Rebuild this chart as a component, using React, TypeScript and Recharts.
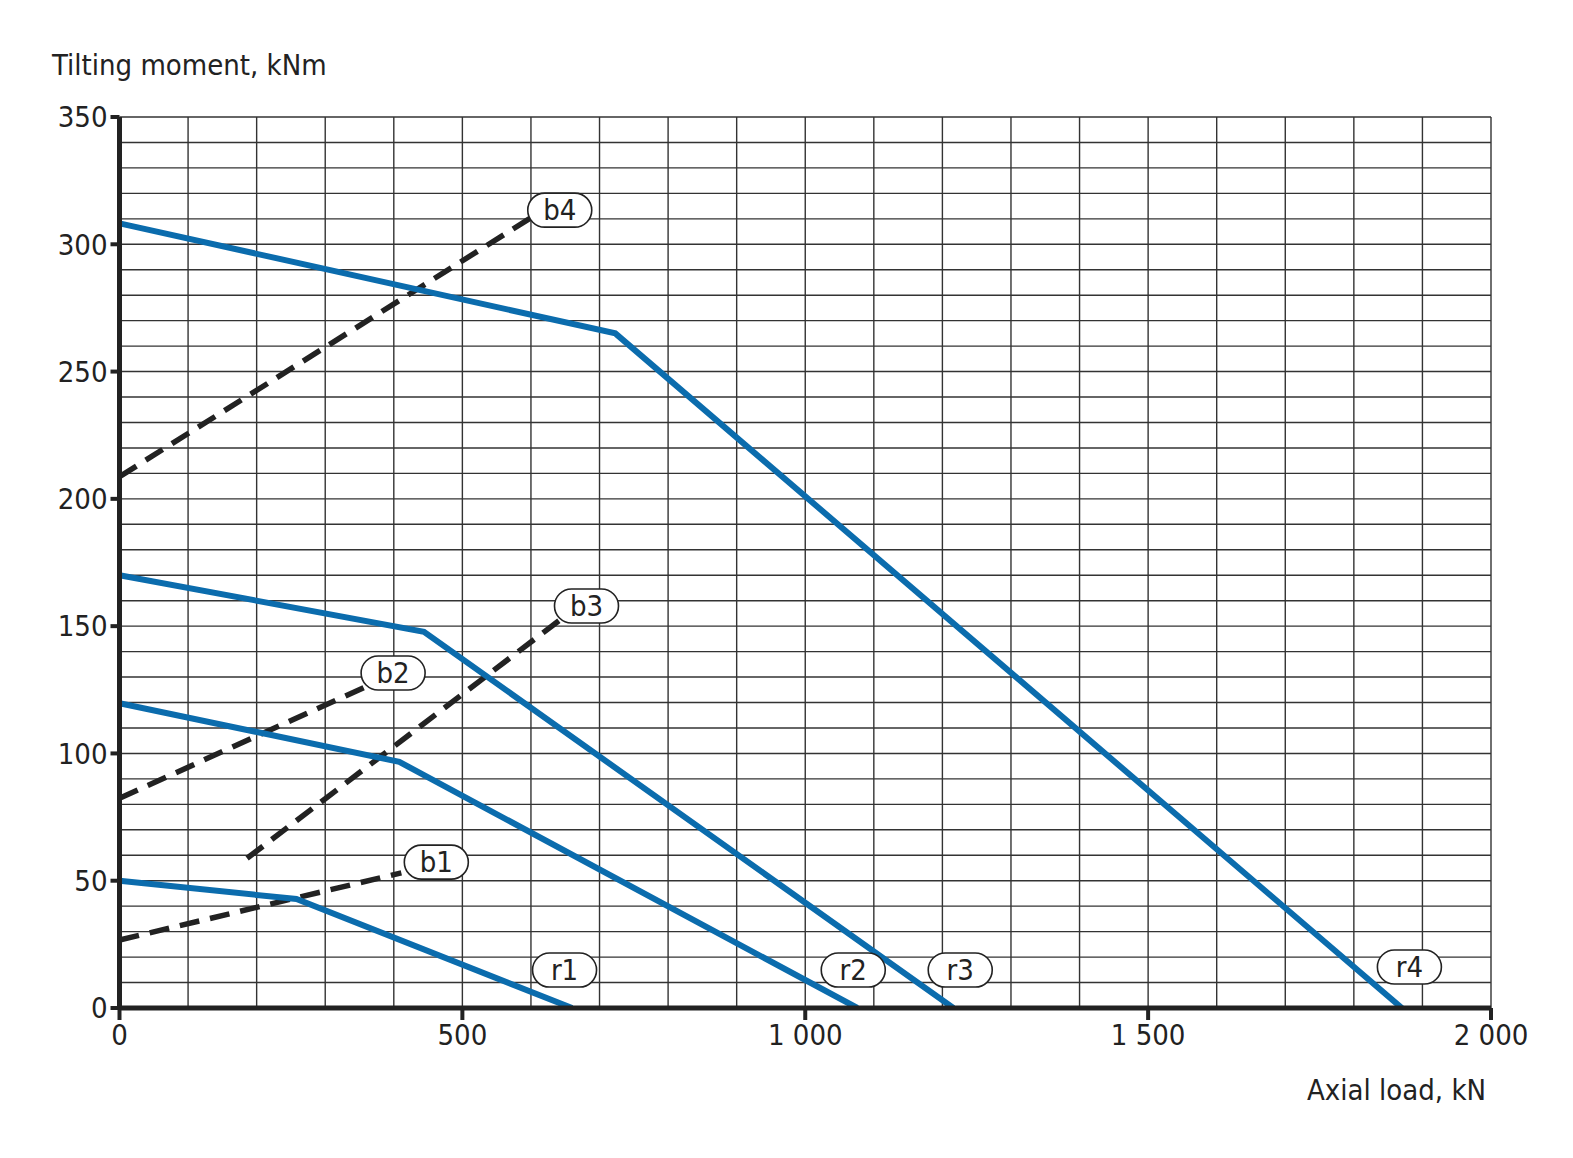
import { LineChart, Line, XAxis, YAxis, CartesianGrid, ReferenceDot } from 'recharts'

// rated curves (blue)
const r1 = [
  { x: 0, y: 50 },
  { x: 258, y: 42.8 },
  { x: 660, y: 0 },
]
const r2 = [
  { x: 0, y: 119.7 },
  { x: 408, y: 96.7 },
  { x: 1076, y: 0 },
]
const r3 = [
  { x: 0, y: 170 },
  { x: 444, y: 147.8 },
  { x: 1216, y: 0 },
]
const r4 = [
  { x: 0, y: 308.2 },
  { x: 723, y: 265 },
  { x: 1870, y: 0 },
]

// bolt curves (dashed)
const b1 = [
  { x: 0, y: 26.7 },
  { x: 411, y: 53.1 },
]
const b2 = [
  { x: 0, y: 82.4 },
  { x: 359, y: 126.2 },
]
const b3 = [
  { x: 186, y: 58.8 },
  { x: 642, y: 152.4 },
]
const b4 = [
  { x: 0, y: 208.7 },
  { x: 602, y: 310.8 },
]

const curveTags = [
  { name: 'b4', x: 642, y: 313.4 },
  { name: 'b3', x: 681, y: 157.9 },
  { name: 'b2', x: 399, y: 131.6 },
  { name: 'b1', x: 462, y: 57.3 },
  { name: 'r1', x: 649, y: 14.9 },
  { name: 'r2', x: 1070, y: 14.9 },
  { name: 'r3', x: 1226, y: 14.9 },
  { name: 'r4', x: 1881, y: 16.1 },
]

const xTicks = [0, 500, 1000, 1500, 2000]
const yTicks = [0, 50, 100, 150, 200, 250, 300, 350]

const gridX = Array.from({ length: 21 }, (_, i) => i * 100)
const gridY = Array.from({ length: 36 }, (_, i) => i * 10)

const BLUE = '#0b6cad'
const INK = '#222'
const FONT = '"Liberation Sans Narrow", "DejaVu Sans Condensed", "Roboto", sans-serif'

const fmtThousands = (v: number) =>
  String(v).replace(/\B(?=(\d{3})+(?!\d))/g, ' ')

const TagShape = ({ cx, cy, name }: any) => (
  <g>
    <rect
      x={cx - 32}
      y={cy - 17}
      width={64}
      height={34}
      rx={17}
      ry={17}
      fill="#fff"
      stroke={INK}
      strokeWidth={1.6}
    />
    <text
      x={cx}
      y={cy + 10}
      textAnchor="middle"
      fontFamily={FONT}
      fontSize={29}
      fill={INK}
    >
      {name}
    </text>
  </g>
)

export default function App() {
  return (
    <div style={{ position: 'relative', width: 1557, height: 1142, fontFamily: FONT }}>
      <div
        style={{
          position: 'absolute',
          left: 44,
          top: 40,
          fontSize: 29,
          color: INK,
        }}
      >
        Tilting moment, kNm
      </div>
      <div
        style={{
          position: 'absolute',
          right: 1557 - 1478,
          top: 1065,
          fontSize: 29,
          color: INK,
        }}
      >
        Axial load, kN
      </div>
      <LineChart
        width={1557}
        height={1142}
        margin={{ top: 109, right: 74, left: 0, bottom: 82 }}
        style={{ position: 'absolute', left: 0, top: 0 }}
      >
        <CartesianGrid
          stroke="#333"
          strokeWidth={1.4}
          horizontalValues={gridY}
          verticalValues={gridX}
        />
        <XAxis
          type="number"
          dataKey="x"
          domain={[0, 2000]}
          ticks={xTicks}
          tickFormatter={fmtThousands}
          allowDataOverflow
          height={60}
          axisLine={{ stroke: INK, strokeWidth: 5 }}
          tickLine={{ stroke: INK, strokeWidth: 4 }}
          tickSize={12}
          tickMargin={4}
          tick={{ fill: INK, fontSize: 29, fontFamily: FONT }}
        />
        <YAxis
          type="number"
          dataKey="y"
          domain={[0, 350]}
          ticks={yTicks}
          allowDataOverflow
          width={111.5}
          axisLine={{ stroke: INK, strokeWidth: 5 }}
          tickLine={{ stroke: INK, strokeWidth: 4 }}
          tickSize={9}
          tickMargin={3}
          tick={{ fill: INK, fontSize: 29, fontFamily: FONT }}
        />
        {[b1, b2, b3, b4].map((d, i) => (
          <Line
            key={`b${i}`}
            data={d}
            dataKey="y"
            type="linear"
            stroke={INK}
            strokeWidth={5.5}
            strokeDasharray="20 11"
            dot={false}
            activeDot={false}
            isAnimationActive={false}
          />
        ))}
        {[r1, r2, r3, r4].map((d, i) => (
          <Line
            key={`r${i}`}
            data={d}
            dataKey="y"
            type="linear"
            stroke={BLUE}
            strokeWidth={6}
            dot={false}
            activeDot={false}
            isAnimationActive={false}
          />
        ))}
        {curveTags.map((t) => (
          <ReferenceDot
            key={t.name}
            x={t.x}
            y={t.y}
            r={1}
            ifOverflow="visible"
            shape={(p: any) => <TagShape {...p} name={t.name} />}
          />
        ))}
      </LineChart>
    </div>
  )
}
